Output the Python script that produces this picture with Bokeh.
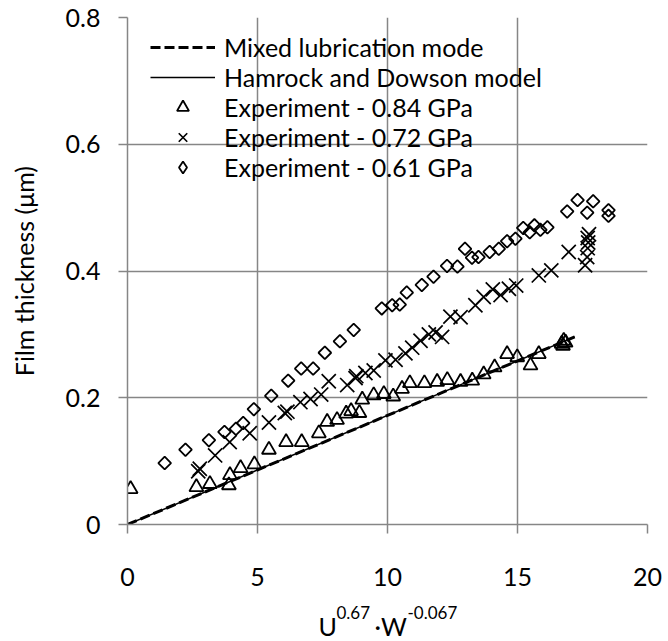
from bokeh.plotting import figure
from bokeh.models import Range1d, Legend, LegendItem, FixedTicker
from bokeh.layouts import column
from bokeh.core.properties import value
from bokeh.embed import file_html
from bokeh.resources import INLINE

# ---------------- data ----------------
x_ticks = [0, 5, 10, 15, 20]
x_tick_labels = ["0", "5", "10", "15", "20"]
y_ticks = [0, 0.2, 0.4, 0.6, 0.8]
y_tick_labels = ["0", "0.2", "0.4", "0.6", "0.8"]

mixed_x = [0, 17.2]
mixed_y = [0, 0.296]
hd_x = [0, 17.2]
hd_y = [0, 0.296]

tri_x = [0.12, 2.65, 3.17, 3.90, 3.94, 4.35, 4.88, 5.44, 6.10, 6.70, 7.36, 7.68,
         8.06, 8.41, 8.60, 8.92, 9.03, 9.47, 9.86, 10.22, 10.56, 10.86, 11.42,
         11.91, 12.30, 12.81, 13.26, 13.70, 14.12, 14.60, 14.99, 15.50, 15.82,
         16.70, 16.78, 16.85, 16.75]
tri_y = [0.056, 0.059, 0.064, 0.062, 0.078, 0.089, 0.095, 0.118, 0.130, 0.130,
         0.144, 0.162, 0.165, 0.175, 0.179, 0.176, 0.197, 0.204, 0.206, 0.202,
         0.214, 0.223, 0.223, 0.225, 0.228, 0.225, 0.227, 0.237, 0.248, 0.269,
         0.264, 0.251, 0.269, 0.285, 0.290, 0.287, 0.282]

x72_x = [2.72, 2.78, 3.37, 3.93, 4.70, 5.44, 6.05, 6.15, 6.65, 7.04, 7.45, 7.74,
         8.45, 8.77, 8.80, 9.15, 9.47, 9.92, 10.31, 10.69, 10.95, 11.27, 11.59,
         11.85, 12.10, 12.42, 12.81, 13.38, 13.70, 14.05, 14.35, 14.67, 14.95,
         15.82, 16.30, 16.97, 17.60, 17.68, 17.70, 17.72, 17.70, 17.75]
x72_y = [0.084, 0.088, 0.109, 0.130, 0.144, 0.161, 0.176, 0.178, 0.193, 0.198,
         0.205, 0.226, 0.220, 0.231, 0.234, 0.239, 0.243, 0.259, 0.260, 0.270,
         0.279, 0.290, 0.300, 0.303, 0.296, 0.328, 0.327, 0.346, 0.359, 0.371,
         0.362, 0.372, 0.377, 0.393, 0.401, 0.430, 0.409, 0.422, 0.436, 0.445,
         0.452, 0.458]

dia_x = [1.43, 2.23, 3.13, 3.73, 4.17, 4.45, 4.86, 5.53, 6.18, 6.68, 7.14, 7.59,
         8.17, 8.70, 9.78, 10.18, 10.47, 10.74, 11.32, 11.77, 12.29, 12.69,
         12.98, 13.25, 13.50, 13.93, 14.28, 14.60, 14.92, 15.22, 15.47, 15.65,
         15.88, 16.15, 16.91, 17.31, 17.68, 17.91, 18.50, 18.50]
dia_y = [0.097, 0.118, 0.133, 0.146, 0.151, 0.160, 0.182, 0.203, 0.227, 0.246,
         0.246, 0.271, 0.289, 0.307, 0.341, 0.346, 0.347, 0.366, 0.378, 0.391,
         0.408, 0.407, 0.435, 0.421, 0.422, 0.430, 0.435, 0.447, 0.451, 0.468,
         0.461, 0.472, 0.465, 0.469, 0.494, 0.512, 0.492, 0.510, 0.496, 0.487]

labels = ["Mixed lubrication mode", "Hamrock and Dowson model",
          "Experiment - 0.84 GPa", "Experiment - 0.72 GPa", "Experiment - 0.61 GPa"]

# x-axis title pieces: U^0.67 ·W^-0.067
xtitle_texts = ["U", "0.67", "\u00b7W", "-0.067"]

FONT = "Lato"
GRID = "#868686"
W = 668
H_MAIN = 600
H_TITLE = 641 - H_MAIN
LEFT, RIGHT, TOP = 127, 21, 17
FW, FH = W - LEFT - RIGHT, 507

p = figure(frame_width=FW, frame_height=FH, output_backend="svg",
           toolbar_location=None,
           x_range=Range1d(0, 20), y_range=Range1d(0, 0.8),
           min_border_left=LEFT, min_border_right=RIGHT, min_border_top=TOP,
           min_border_bottom=H_MAIN - TOP - FH, background_fill_color="white",
           border_fill_color="white")
p.outline_line_color = None

for g in (p.xgrid, p.ygrid):
    g.grid_line_color = GRID
    g.grid_line_width = 1.5
p.xaxis.ticker = FixedTicker(ticks=x_ticks)
p.yaxis.ticker = FixedTicker(ticks=y_ticks)
p.xaxis.major_label_overrides = {t: l for t, l in zip(x_ticks, x_tick_labels)}
p.yaxis.major_label_overrides = {t: l for t, l in zip(y_ticks, y_tick_labels)}
for ax in (p.xaxis, p.yaxis):
    ax.axis_line_color = GRID
    ax.axis_line_width = 1.5
    ax.major_tick_line_color = GRID
    ax.major_tick_line_width = 1.5
    ax.major_tick_out = 9
    ax.major_tick_in = 0
    ax.minor_tick_line_color = None
    ax.major_label_text_font = FONT
    ax.major_label_text_font_size = "25px"
    ax.major_label_text_color = "black"
p.xaxis.major_label_standoff = 34
p.yaxis.major_label_standoff = 18

p.yaxis.axis_label = "Film thickness (\u03bcm)"
p.yaxis.axis_label_text_font = FONT
p.yaxis.axis_label_text_font_size = "25px"
p.yaxis.axis_label_text_font_style = "normal"
p.yaxis.axis_label_text_color = "black"
p.yaxis.axis_label_standoff = 24

r_mixed = p.line(mixed_x, mixed_y, line_color="black", line_width=3, line_dash="10 4")
r_hd = p.line(hd_x, hd_y, line_color="black", line_width=1.5)
r_tri = p.scatter(tri_x, tri_y, marker="triangle", size=14, fill_color=None,
                  line_color="black", line_width=1.8)
r_x = p.scatter(x72_x, x72_y, marker="x", size=20, line_color="black", line_width=1.7)
r_dia = p.scatter(dia_x, dia_y, marker="square", angle=0.785398, size=9,
                  fill_color=None, line_color="black", line_width=1.8)
# legend key for the diamonds (the legend does not rotate markers); hidden on the plot
r_dia_key = p.scatter(dia_x, dia_y, marker="diamond", size=13, visible=False,
                      fill_color=None, line_color="black", line_width=1.8)

legend = Legend(items=[LegendItem(label=labels[0], renderers=[r_mixed]),
                       LegendItem(label=labels[1], renderers=[r_hd]),
                       LegendItem(label=labels[2], renderers=[r_tri]),
                       LegendItem(label=labels[3], renderers=[r_x]),
                       LegendItem(label=labels[4], renderers=[r_dia_key])],
                location=(23, 342), padding=0, margin=0, spacing=0,
                glyph_width=65, glyph_height=30, label_height=30,
                label_standoff=9, label_text_font=FONT,
                label_text_font_size="25px", label_text_color="black",
                border_line_color=None, background_fill_alpha=0,
                inactive_fill_alpha=0)
p.add_layout(legend)

# strip below the chart holding the x-axis title (canvas pixel coordinates)
t = figure(frame_width=FW, frame_height=H_TITLE, output_backend="svg",
           toolbar_location=None, x_axis_location=None, y_axis_location=None,
           x_range=Range1d(LEFT, LEFT + FW), y_range=Range1d(0, H_TITLE),
           min_border_left=LEFT, min_border_right=RIGHT, min_border_top=0,
           min_border_bottom=0, background_fill_color="white",
           border_fill_color="white")
t.grid.visible = False
t.outline_line_color = None
xt_x = [318, 336, 374, 407]
xt_y = [16, 29, 16, 29]
xt_size = ["25px", "17px", "25px", "17px"]
for txt, xx, yy, fs in zip(xtitle_texts, xt_x, xt_y, xt_size):
    t.text(x=[xx], y=[yy], text=[txt], text_font=value(FONT),
           text_font_size=value(fs), text_color="black",
           text_baseline="alphabetic", text_align="left")

layout = column(p, t, spacing=0)
open("out.html", "w").write(file_html(layout, INLINE))
